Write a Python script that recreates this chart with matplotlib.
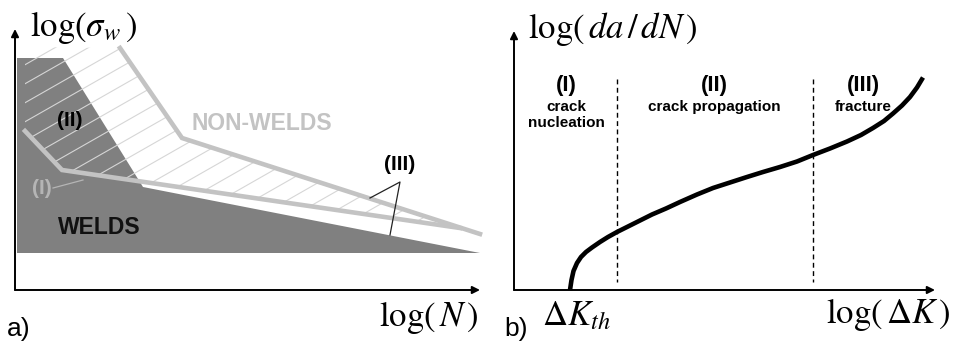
import numpy as np
import matplotlib.pyplot as plt
from matplotlib.patches import Polygon

plt.rcParams['mathtext.fontset'] = 'stix'
plt.rcParams['font.family'] = ['Liberation Sans', 'DejaVu Sans']

# panel a) - S-N schematic (picture coords, y grows downwards)
welds_region_x = [17, 63, 143, 480, 17]
welds_region_y = [58, 58, 187, 253, 253]

welds_x = [25, 62, 460]
welds_y = [131, 170, 228]

nonwelds_x = [120, 182, 480]
nonwelds_y = [48, 138, 234]

band_x = [25, 120, 182, 460, 62, 25]
band_y = [47, 48, 138, 228, 170, 131]

# panel b) - crack growth curve
crack_x = [570, 571.5, 573.5, 577, 581, 586, 592, 600, 608, 617, 628, 640,
           652, 666, 680, 697, 713, 730, 747, 763, 780, 797, 813, 830, 847,
           861, 873, 884, 893, 902, 910, 917, 923]
crack_y = [290, 280, 271, 263, 257, 252, 247.5, 242, 237, 232, 226.5, 220.5,
           214.5, 208.5, 202, 194.5, 188, 182.5, 177, 172, 167, 161.5, 155,
           148.5, 141.5, 135, 128, 121, 113.5, 105.5, 97, 87.5, 77.5]
region_bounds = [617, 813]
region_titles = ['(I)', '(II)', '(III)']
region_names = ['crack\nnucleation', 'crack propagation', 'fracture']
region_centers = [566, 714, 863]

LIGHT = '#c3c3c3'
DARK = '#808080'

fig = plt.figure(figsize=(9.54, 3.42), dpi=100)
ax = fig.add_axes([0, 0, 1, 1])
ax.set_xlim(0, 954)
ax.set_ylim(342, 0)
ax.axis('off')


def arrow(x0, y0, x1, y1):
    ax.annotate('', xy=(x1, y1), xytext=(x0, y0),
                arrowprops=dict(arrowstyle='-|>', lw=1.4, color='black',
                                mutation_scale=11, shrinkA=0, shrinkB=0))


# ---- a) ----
ax.fill(welds_region_x, welds_region_y, color=DARK, lw=0, zorder=1)

band = Polygon(np.column_stack([band_x, band_y]), closed=True,
               fc='none', ec='none')
ax.add_patch(band)
slope = 0.57
hx = np.array([0, 500])
for c in np.arange(60, 520, 19):
    ln, = ax.plot(hx, c - slope * hx, color='#d6d6d6', lw=0.8, zorder=2)
    ln.set_clip_path(band)

ax.plot(welds_x, welds_y, color=LIGHT, lw=3.3, zorder=3,
        solid_joinstyle='miter')
ax.plot(nonwelds_x, nonwelds_y, color=LIGHT, lw=3.3, zorder=3,
        solid_joinstyle='miter')

arrow(15, 290, 480, 290)
arrow(15, 290, 15, 29)

ax.text(30, 36, r'$\mathrm{log}(\sigma_{w}\,)$', fontsize=25, zorder=5)
ax.text(379, 326, r'$\mathrm{log}(\,N\,)$', fontsize=25, zorder=5)
ax.text(7, 336, 'a)', fontsize=19, zorder=5)

ax.text(70, 120, '(II)', fontsize=15, fontweight='bold', ha='center',
        va='center', zorder=5)
ax.text(42, 188, '(I)', fontsize=15, fontweight='bold', color='#b5b5b5',
        ha='center', va='center', zorder=5)
ax.plot([53, 83], [188, 180], color='#b5b5b5', lw=0.9, zorder=4)
ax.text(262, 124, 'NON-WELDS', fontsize=16.5, fontweight='bold', color=LIGHT,
        ha='center', va='center', zorder=5)
ax.text(99, 227, 'WELDS', fontsize=16.5, fontweight='bold', color='#111111',
        ha='center', va='center', zorder=5)
ax.text(400, 164, '(III)', fontsize=15, fontweight='bold', ha='center',
        va='center', zorder=5)
ax.plot([370, 400, 390], [198, 182, 235], color='#222222', lw=0.9, zorder=4)

# ---- b) ----
arrow(514, 290, 935, 290)
arrow(514, 290, 514, 31)

for xb in region_bounds:
    ax.plot([xb, xb], [79, 282], color='black', lw=1.0,
            linestyle=(0, (3.5, 2.5)), zorder=2)

ax.plot(crack_x, crack_y, color='black', lw=3.3, zorder=3,
        solid_capstyle='butt', solid_joinstyle='round')

for cx, t, n in zip(region_centers, region_titles, region_names):
    ax.text(cx, 85, t, fontsize=16, fontweight='bold', ha='center',
            va='center', zorder=5)
    ax.text(cx, 100, n, fontsize=11, fontweight='bold', ha='center',
            va='top', linespacing=1.15, zorder=5)

ax.text(528, 38, r'$\mathrm{log}(\,da\,/\,dN\,)$', fontsize=25, zorder=5)
ax.text(826, 323, r'$\mathrm{log}(\,\Delta K\,)$', fontsize=25, zorder=5)
ax.text(542, 325, r'$\Delta K_{th}$', fontsize=25, zorder=5)
ax.text(504, 336, 'b)', fontsize=19, zorder=5)

fig.savefig('out.png', dpi=100)
